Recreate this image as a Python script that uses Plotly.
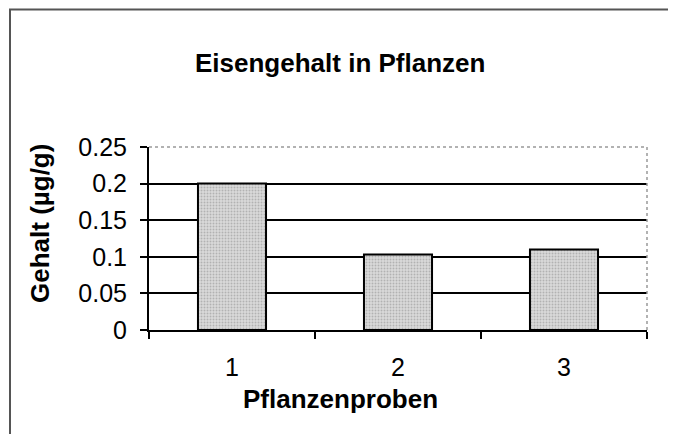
import plotly.graph_objects as go

proben = ["1", "2", "3"]
gehalt = [0.2, 0.103, 0.11]
y_ticks = [0, 0.05, 0.1, 0.15, 0.2, 0.25]
y_labels = ["0", "0.05", "0.1", "0.15", "0.2", "0.25"]

font = "Liberation Sans, Arial, sans-serif"

# page has an 8px body margin, so the figure is a bit smaller and shifted
W, H = 668, 426
L, T = 141, 139          # plot area starts at page x=149, y=147
PW, PH = 498, 183


def px(x):
    return (x - 149) / PW


def py(y):
    return (330 - y) / PH


bars = go.Bar(
    x=proben,
    y=gehalt,
    width=0.41,
    marker=dict(
        color="#cfcfcf",
        line=dict(color="black", width=2),
        pattern=dict(shape=".", fgcolor="#8a8a8a", bgcolor="#dadada", size=3, solidity=0.35),
    ),
)

layout = go.Layout(
    width=W,
    height=H,
    margin=dict(l=L, r=W - L - PW, t=T, b=H - T - PH),
    paper_bgcolor="white",
    plot_bgcolor="white",
    showlegend=False,
    font=dict(family=font, color="black"),
    xaxis=dict(
        type="category",
        tickson="boundaries",
        ticks="outside",
        ticklen=7,
        tickwidth=1.5,
        tickcolor="black",
        showline=True,
        linecolor="black",
        linewidth=2,
        showgrid=False,
        tickfont=dict(size=25),
        ticklabelstandoff=14,
    ),
    yaxis=dict(
        range=[0, 0.25],
        tickvals=y_ticks,
        ticktext=y_labels,
        ticks="outside",
        ticklen=7,
        tickwidth=1.5,
        tickcolor="black",
        showline=True,
        linecolor="black",
        linewidth=2,
        showgrid=True,
        gridcolor="black",
        gridwidth=2,
        zeroline=False,
        tickfont=dict(size=25),
        ticklabelstandoff=8,
    ),
    annotations=[
        dict(text="<b>Eisengehalt in Pflanzen</b>", xref="paper", yref="paper",
             x=px(340), y=py(63), xanchor="center", yanchor="middle",
             showarrow=False, font=dict(size=26)),
        dict(text="<b>Pflanzenproben</b>", xref="paper", yref="paper",
             x=px(340), y=py(399), xanchor="center", yanchor="middle",
             showarrow=False, font=dict(size=26)),
        dict(text="<b>Gehalt (µg/g)</b>", xref="paper", yref="paper",
             x=px(40), y=py(224), xanchor="center", yanchor="middle",
             showarrow=False, textangle=-90, font=dict(size=26)),
    ],
    shapes=[
        # outer chart frame
        dict(type="rect", xref="paper", yref="paper",
             x0=px(10), x1=px(670), y0=py(445), y1=py(9.5),
             line=dict(color="#555555", width=2)),
        # dotted top / right border of the plot area
        dict(type="line", xref="paper", yref="paper", x0=0, x1=1, y0=1, y1=1,
             line=dict(color="#999999", width=1.5, dash="dot")),
        dict(type="line", xref="paper", yref="paper", x0=1, x1=1, y0=0, y1=1,
             line=dict(color="#999999", width=1.5, dash="dot")),
    ],
)

fig = go.Figure(data=bars, layout=layout)
fig.write_html("out.html")
